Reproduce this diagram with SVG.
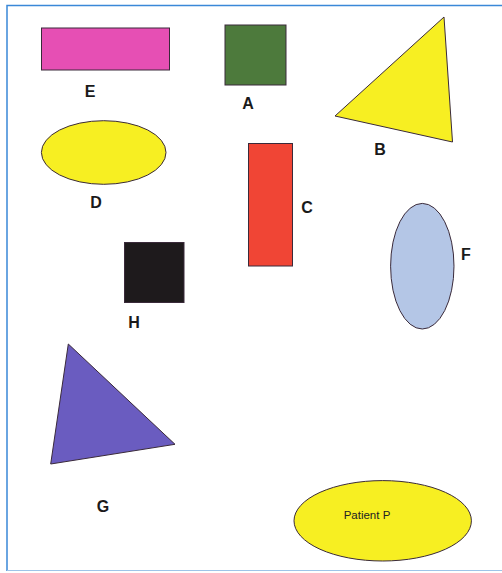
<svg xmlns="http://www.w3.org/2000/svg" width="502" height="573" viewBox="0 0 502 573">
<style>
.s{stroke:#3a2a3a;stroke-width:1}
.l{font-family:"Liberation Sans",Arial,sans-serif;font-weight:bold;font-size:16px;fill:#1a1a1a;text-anchor:middle}
.t{font-family:"Liberation Sans",Arial,sans-serif;font-size:11.5px;fill:#222;text-anchor:middle}
</style>
<rect x="0" y="0" width="502" height="573" fill="#fff"/>
<path d="M7,571 V5.5 H502" fill="none" stroke="#3a88d8" stroke-width="1.5"/>
<path d="M7,570.5 H502" fill="none" stroke="#9ec4e8" stroke-width="1"/>
<g id="E"><rect class="s" x="41.5" y="28" width="128" height="42" fill="#e64fb4"/><text class="l" x="90" y="97">E</text></g>
<g id="A"><rect class="s" x="225" y="25" width="61" height="60" fill="#4d7a3c"/><text class="l" x="248" y="109">A</text></g>
<g id="B"><polygon class="s" points="335,116 444,17 452.5,142" fill="#f7ef22"/><text class="l" x="380" y="155">B</text></g>
<g id="D"><ellipse class="s" cx="103.7" cy="152.5" rx="62.3" ry="31.8" fill="#f7ef22"/><text class="l" x="96" y="208">D</text></g>
<g id="C"><rect class="s" x="248.5" y="143.5" width="44" height="122.5" fill="#f04535"/><text class="l" x="307" y="213">C</text></g>
<g id="H"><rect class="s" x="124.5" y="242.5" width="59.5" height="60" fill="#1e1a1c"/><text class="l" x="134" y="328">H</text></g>
<g id="F"><ellipse class="s" cx="422.3" cy="266.2" rx="31.7" ry="62.8" fill="#b4c6e6"/><text class="l" x="466" y="260">F</text></g>
<g id="G"><polygon class="s" points="68.3,344 175,444.3 50.7,464" fill="#6a5cc0"/><text class="l" x="103" y="512">G</text></g>
<g id="P"><ellipse class="s" cx="382.7" cy="520.8" rx="88.7" ry="40.2" fill="#f7ef22"/><text class="t" x="367" y="518.5">Patient P</text></g>
<g id="connectors"></g>
</svg>
